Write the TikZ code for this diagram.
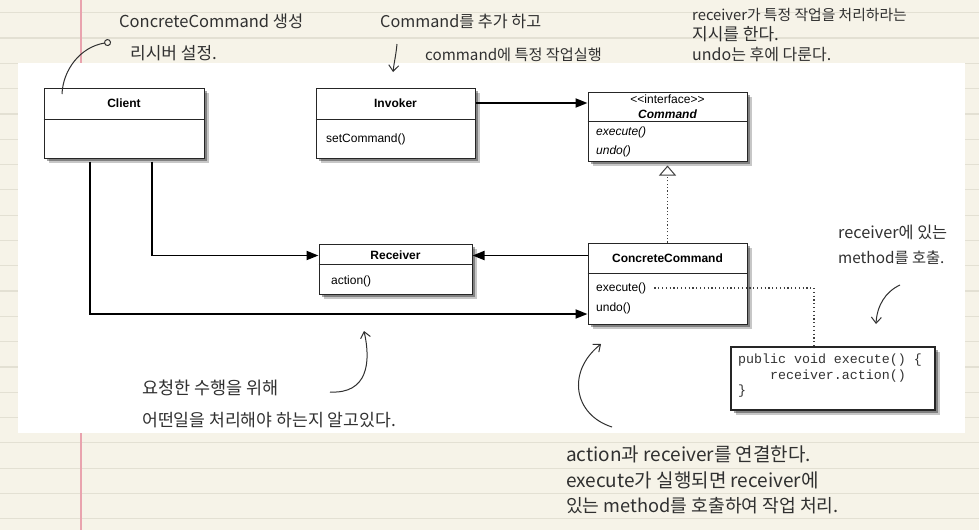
\documentclass[tikz,border=0pt]{standalone}
\usepackage{fontspec}
\setmainfont{Liberation Sans}
\newfontfamily\hand{Noto Sans CJK KR}
\newfontfamily\codefont{Liberation Mono}
\usetikzlibrary{arrows.meta,shadows,calc}
\definecolor{paper}{HTML}{F6F3E8}
\definecolor{rulecol}{HTML}{E3E0D3}
\definecolor{margincol}{HTML}{E9A3AE}
\definecolor{ink}{HTML}{303030}
\newcommand\handsz[1]{\hand\fontsize{#1}{#1}\selectfont}
\begin{document}
\begin{tikzpicture}[x=1pt,y=-1pt,
  cls/.style={draw=black!85, line width=1pt, fill=white, inner sep=0pt,
    drop shadow={shadow xshift=5pt,shadow yshift=-5pt,opacity=.22,fill=black},
    drop shadow={shadow xshift=3pt,shadow yshift=-3pt,opacity=.35,fill=black}},
  nm/.style={font=\fontsize{12}{14}\selectfont\bfseries, inner sep=0pt},
  mt/.style={font=\fontsize{12}{14}\selectfont, inner sep=0pt, anchor=west},
  divider/.style={draw=black!85, line width=0.9pt},
  conn/.style={line width=1.8pt, -{Triangle[length=12pt,width=9pt]}},
  realiz/.style={draw=black!75, line width=1.2pt, dash pattern=on 1.2pt off 2.2pt,
    -{Triangle[open,length=10pt,width=17pt,line width=1pt,fill=white]}},
  dotline/.style={draw=black!75, line width=1.2pt, dash pattern=on 1.2pt off 2.6pt},
  hw/.style={text=ink, anchor=west, inner sep=0pt},
  harrow/.style={draw=ink, line width=1pt, -{Straight Barb[length=6pt,width=10pt]}}
]
\useasboundingbox (0,0) rectangle (979,530);
% paper
\fill[paper] (0,0) rectangle (979,530);
\foreach \k in {0,...,20}{
  \draw[rulecol, line width=1.2pt] (0,{12.7+25.3*\k}) -- (979,{12.7+25.3*\k});
}
\draw[margincol, line width=1.5pt] (81,0) -- (81,530);
\fill[white] (18,63) rectangle (965,433);

% ---- classes ----
\node[cls, minimum width=160pt, minimum height=70pt] (client) at (124,123) {};
\draw[divider] ($(client.north west)+(0,32)$) -- ($(client.north east)+(0,32)$);
\node[nm] (client-n) at (124,103) {Client};

\node[cls, minimum width=159pt, minimum height=70pt] (inv) at (395.5,123) {};
\draw[divider] ($(inv.north west)+(0,32)$) -- ($(inv.north east)+(0,32)$);
\node[nm] (inv-n) at (395.5,103) {Invoker};
\node[mt] (inv-m) at (326,139) {setCommand()};

\node[cls, minimum width=159pt, minimum height=69pt] (cmd) at (667.5,126.5) {};
\draw[divider] ($(cmd.north west)+(0,30)$) -- ($(cmd.north east)+(0,30)$);
\node[inner sep=0pt, font=\fontsize{12}{14}\selectfont] (cmd-s) at (667.5,99) {<{}<interface>{}>};
\node[nm, font=\fontsize{12}{14}\selectfont\bfseries\itshape] (cmd-n) at (667.5,114) {Command};
\node[mt, font=\fontsize{12}{14}\selectfont\itshape] (cmd-ex) at (596,132) {execute()};
\node[mt, font=\fontsize{12}{14}\selectfont\itshape] (cmd-un) at (596,151.5) {undo()};

\node[cls, minimum width=159pt, minimum height=81pt] (cc) at (667.5,283.5) {};
\draw[divider] ($(cc.north west)+(0,31)$) -- ($(cc.north east)+(0,31)$);
\node[nm] (cc-n) at (667.5,258) {ConcreteCommand};
\node[mt] (cc-ex) at (596,288) {execute()};
\node[mt] (cc-un) at (596,308) {undo()};

\node[cls, minimum width=153pt, minimum height=50pt] (recv) at (395.5,269) {};
\draw[divider] ($(recv.north west)+(0,21)$) -- ($(recv.north east)+(0,21)$);
\node[nm] (recv-n) at (395.5,255.5) {Receiver};
\node[mt] (recv-m) at (331,281) {action()};

\node[cls, line width=1.3pt, minimum width=204pt, minimum height=63pt] (code) at (833,378.5) {};
\node[anchor=north west, inner sep=0pt, align=left, text=black!80,
  font=\codefont\fontsize{13.3}{15.5}\selectfont] (code-t) at (738,354)
  {public void execute() \{\\\hphantom{xxxx}receiver.action()\\\}};

% ---- connectors ----
\coordinate (cx1) at (152,0);
\coordinate (cx2) at (90,0);
\coordinate (cy) at (0,314);
\coordinate (cbend) at (814,0);
\draw[conn] ([yshift=-3pt]client.south -| cx1) |- (recv.west |- recv-n);
\draw[conn] ([yshift=-3pt]client.south -| cx2) |- (cc.west |- cy);
\draw[conn] (inv.east |- inv-n) -- (cmd.west |- inv-n);
\draw[conn] (cc.west |- recv-n) -- (recv.east |- recv-n);
\draw[realiz, shorten >=4pt] (cc.north) -- (cmd.south);
\draw[dotline] ([xshift=8pt]cc-ex.east) -| (code.north -| cbend);

% ---- handwritten notes ----
\node[hw, font=\handsz{16.5}] (n1a) at (119,21) {ConcreteCommand 생성};
\node[hw, font=\handsz{17}] (n1b) at (130,53) {리시버 설정.};
\coordinate (a1s) at (62,94);
\coordinate (a1e) at (111,42);
\draw[draw=ink, line width=1pt, -{Circle[open,length=7pt,width=7pt]}]
  (a1s) .. controls (63,70) and (80,47) .. (a1e);

\node[hw, font=\handsz{16.2}] (n2a) at (380,21) {Command를 추가 하고};
\node[hw, font=\handsz{15.2}] (n2b) at (425,55) {command에 특정 작업실행};
\coordinate (a2s) at (397,44);
\coordinate (a2e) at (393,72);
\draw[harrow] (a2s) .. controls (396,55) and (394,63) .. (a2e);

\node[hw, font=\handsz{14.8}] (n3a) at (692,15) {receiver가 특정 작업을 처리하라는};
\node[hw, font=\handsz{17}] (n3b) at (692,34) {지시를 한다.};
\node[hw, font=\handsz{16}] (n3c) at (692,54) {undo는 후에 다룬다.};

\node[hw, font=\handsz{16.3}] (n4a) at (838,232) {receiver에 있는};
\node[hw, font=\handsz{15.3}] (n4b) at (838,258) {method를 호출.};
\coordinate (a4s) at (900,285);
\coordinate (a4e) at (876,324);
\draw[harrow] (a4s) .. controls (885,292) and (877,306) .. (a4e);

\node[hw, font=\handsz{17.5}] (n5a) at (142,388) {요청한 수행을 위해};
\node[hw, font=\handsz{17.2}] (n5b) at (142,420) {어떤일을 처리해야 하는지 알고있다.};
\coordinate (a5s) at (330,392);
\coordinate (a5e) at (364,331);
\draw[harrow] (a5s) .. controls (368,394) and (371,362) .. (a5e);

\node[hw, font=\handsz{19}] (n6a) at (566,454) {action과 receiver를 연결한다.};
\node[hw, font=\handsz{19}] (n6b) at (566,480) {execute가 실행되면 receiver에};
\node[hw, font=\handsz{18.2}] (n6c) at (566,506) {있는 method를 호출하여 작업 처리.};
\coordinate (a6s) at (612,427);
\coordinate (a6e) at (601,344);
\draw[harrow] (a6s) .. controls (574,415) and (566,372) .. (a6e);
\end{tikzpicture}
\end{document}
